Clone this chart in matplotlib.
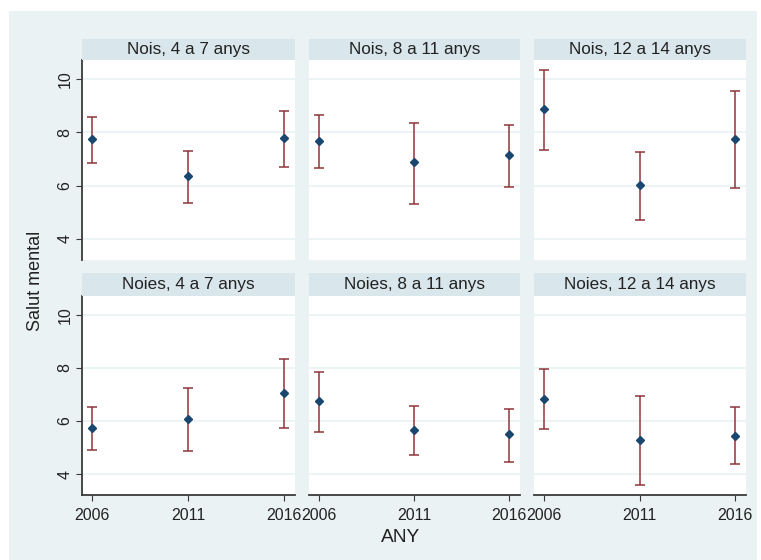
import matplotlib
matplotlib.use("Agg")
import matplotlib.pyplot as plt
from matplotlib.patches import Rectangle

plt.rcParams['font.family'] = ['Liberation Sans', 'DejaVu Sans']

years = [2006, 2011, 2016]
panel_titles = ["Nois, 4 a 7 anys", "Nois, 8 a 11 anys", "Nois, 12 a 14 anys",
                "Noies, 4 a 7 anys", "Noies, 8 a 11 anys", "Noies, 12 a 14 anys"]
means = [
    [7.74, 6.37, 7.78],
    [7.69, 6.88, 7.14],
    [8.86, 6.01, 7.74],
    [5.75, 6.07, 7.05],
    [6.74, 5.67, 5.50],
    [6.83, 5.27, 5.44],
]
upper = [
    [8.56, 7.30, 8.80],
    [8.66, 8.34, 8.29],
    [10.33, 7.25, 9.56],
    [6.51, 7.23, 8.33],
    [7.85, 6.58, 6.44],
    [7.97, 6.94, 6.52],
]
lower = [
    [6.85, 5.36, 6.71],
    [6.67, 5.32, 5.95],
    [7.34, 4.72, 5.90],
    [4.92, 4.88, 5.74],
    [5.59, 4.70, 4.45],
    [5.69, 3.58, 4.38],
]
yticks = [4, 6, 8, 10]
xlabel = "ANY"
ylabel = "Salut mental"

W, H = 761, 560
fig = plt.figure(figsize=(W / 100, H / 100), dpi=100)
fig.patch.set_facecolor("white")

bg = "#EAF2F3"
strip_c = "#D9E6EB"
navy = "#1A476F"
maroon = "#90353B"
axis_c = "#3a3a3a"


def rect(x0, y0, x1, y1):
    return [x0 / W, 1 - y1 / H, (x1 - x0) / W, (y1 - y0) / H]


fig.patches.append(Rectangle((9 / W, 0), (757 - 9) / W, 1 - 11 / H,
                             transform=fig.transFigure, facecolor=bg,
                             edgecolor="none", zorder=-10))

cols = [(82, 295), (309, 520), (534, 746)]
rows = [((39, 60), (60, 260)), ((273, 296), (296, 495))]

for i in range(6):
    r, c = divmod(i, 3)
    (sy0, sy1), (py0, py1) = rows[r]
    x0, x1 = cols[c]
    ax = fig.add_axes(rect(x0, py0, x1, py1))
    ax.set_facecolor("white")
    m = means[i]
    yerr = [[m[k] - lower[i][k] for k in range(3)],
            [upper[i][k] - m[k] for k in range(3)]]
    ax.errorbar(years, m, yerr=yerr, fmt="none", ecolor=maroon,
                elinewidth=1.1, capsize=3.5, capthick=1.1, zorder=3)
    ax.plot(years, m, "D", color=navy, markersize=4.5, zorder=4)
    ax.set_xlim(2005.48, 2016.57)
    ax.set_ylim(3.21, 10.71)
    ax.set_yticks(yticks)
    ax.set_xticks(years)
    for yv in yticks:
        ax.axhline(yv, color=bg, linewidth=1.2, zorder=1)
    for s in ax.spines.values():
        s.set_visible(False)
    if c == 0:
        ax.spines["left"].set_visible(True)
        ax.spines["left"].set_color(axis_c)
        ax.spines["left"].set_linewidth(1.3)
        ax.tick_params(axis="y", direction="out", length=4, width=0.8,
                       color=axis_c, labelsize=11.5, pad=3, labelcolor="#222222")
        for lab in ax.get_yticklabels():
            lab.set_rotation(90)
            lab.set_va("center")
    else:
        ax.tick_params(axis="y", left=False, labelleft=False)
    if r == 1:
        ax.spines["bottom"].set_visible(True)
        ax.spines["bottom"].set_color(axis_c)
        ax.spines["bottom"].set_linewidth(1.3)
        ax.tick_params(axis="x", direction="out", length=4, width=0.8,
                       color=axis_c, labelsize=11.5, pad=5, labelcolor="#222222")
    else:
        ax.tick_params(axis="x", bottom=False, labelbottom=False)

    sax = fig.add_axes(rect(x0, sy0, x1, sy1))
    sax.set_facecolor(strip_c)
    sax.set_xticks([])
    sax.set_yticks([])
    for s in sax.spines.values():
        s.set_visible(False)
    sax.text(0.5, 0.5, panel_titles[i], ha="center", va="center",
             fontsize=12.3, color="#222222", transform=sax.transAxes)

fig.text(35 / W, 1 - 281 / H, ylabel, rotation=90, ha="center", va="center",
         fontsize=13, color="#222222")
fig.text(401 / W, 1 - 538 / H, xlabel, ha="center", va="center",
         fontsize=13.8, color="#222222")

fig.savefig("out.png", dpi=100, facecolor=fig.get_facecolor())
